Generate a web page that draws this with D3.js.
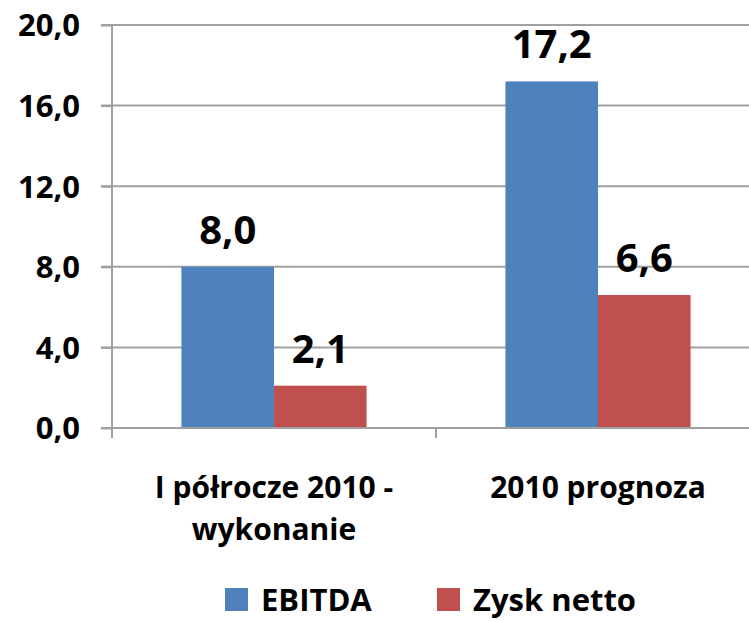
<!DOCTYPE html>
<meta charset="utf-8">
<head>
<style>
body { margin: 0; background: #fff; }
svg text { font-family: "Open Sans", sans-serif; font-weight: 700; fill: #000; }
.grid line { stroke: #a0a0a0; stroke-width: 2; }
.axis path, .axis line { stroke: #a0a0a0; stroke-width: 2; fill: none; }
</style>
<script src="https://d3js.org/d3.v7.min.js"></script>
</head>
<body>
<svg id="chart" width="749" height="621"></svg>
<script>

// data
var categories = [["I półrocze 2010 -", "wykonanie"], ["2010 prognoza"]];
var series = ["EBITDA", "Zysk netto"];
var colors = ["#4f81bd", "#c0504d"];
var ebitda = [8.0, 17.2];
var zysk = [2.1, 6.6];
var yTicks = [0, 4, 8, 12, 16, 20];

var values = [ebitda, zysk];
var fmt = function(v){ return d3.format(".1f")(v).replace(".", ","); };

var svg = d3.select("#chart"),
    margin = {top: 25, left: 112, bottom: 193},
    height = +svg.attr("height") - margin.top - margin.bottom;

var catKeys = categories.map(function(c){ return c.join(" "); });

var x0 = d3.scaleBand()
    .domain(catKeys)
    .range([margin.left, 760]);

var x1 = d3.scaleBand()
    .domain(series)
    .range([0, x0.bandwidth()])
    .paddingOuter(0.75);

var y = d3.scaleLinear()
    .domain([0, 20])
    .range([margin.top + height, margin.top]);

// gridlines
svg.append("g").attr("class", "grid")
  .selectAll("line").data(yTicks.filter(function(t){ return t > 0; }))
  .enter().append("line")
    .attr("x1", margin.left - 11)
    .attr("x2", 749)
    .attr("y1", function(d){ return y(d); })
    .attr("y2", function(d){ return y(d); });

// y axis
var yAxis = svg.append("g").attr("class", "axis")
    .attr("transform", "translate(" + margin.left + ",0)")
    .call(d3.axisLeft(y).tickValues(yTicks).tickFormat(fmt).tickSize(11).tickSizeOuter(0).tickPadding(21));
yAxis.select(".domain").attr("d", "M0," + y(20) + "V" + (y(0) + 10));
yAxis.selectAll("text").style("font-size", "31px").attr("dy", "0.35em");

// bars
var groups = svg.selectAll(".cat").data(catKeys).enter().append("g")
    .attr("class", "cat")
    .attr("transform", function(d){ return "translate(" + x0(d) + ",0)"; });

groups.each(function(c, ci){
  var g = d3.select(this);
  series.forEach(function(s, si){
    var v = values[si][ci];
    g.append("rect")
      .attr("x", x1(s))
      .attr("width", x1.bandwidth())
      .attr("y", y(v))
      .attr("height", y(0) - y(v))
      .attr("fill", colors[si]);
    g.append("text")
      .attr("x", x1(s) + x1.bandwidth() / 2)
      .attr("y", y(v) - 23)
      .attr("text-anchor", "middle")
      .style("font-size", "40px")
      .text(fmt(v));
  });
});

// x axis
var xAxis = svg.append("g").attr("class", "axis")
    .attr("transform", "translate(0," + y(0) + ")");
xAxis.append("line")
    .attr("x1", margin.left - 11).attr("x2", 749)
    .attr("y1", 0).attr("y2", 0);
xAxis.selectAll(".tk").data(catKeys.concat(["end"])).enter().append("line")
    .attr("x1", function(d){ return d === "end" ? x0.range()[1] : x0(d); })
    .attr("x2", function(d){ return d === "end" ? x0.range()[1] : x0(d); })
    .attr("y1", 0).attr("y2", 10);

var lab = svg.selectAll(".catlab").data(categories).enter().append("text")
    .attr("class", "catlab")
    .attr("text-anchor", "middle")
    .style("font-size", "30px")
    .attr("transform", function(d, i){
      return "translate(" + (x0(catKeys[i]) + x0.bandwidth() / 2) + "," + (y(0) + 70) + ")";
    });
lab.selectAll("tspan").data(function(d){ return d; }).enter().append("tspan")
    .attr("x", 0)
    .attr("dy", function(d, i){ return i === 0 ? 0 : 42; })
    .text(function(d){ return d; });

// legend
var legX = [225, 437];
var leg = svg.selectAll(".leg").data(series).enter().append("g")
    .attr("class", "leg")
    .attr("transform", function(d, i){ return "translate(" + legX[i] + ",588)"; });
leg.append("rect").attr("width", 23).attr("height", 23)
    .attr("fill", function(d, i){ return colors[i]; });
leg.append("text").attr("x", 36).attr("y", 23)
    .style("font-size", "31px")
    .text(function(d){ return d; });

</script>
</body>
